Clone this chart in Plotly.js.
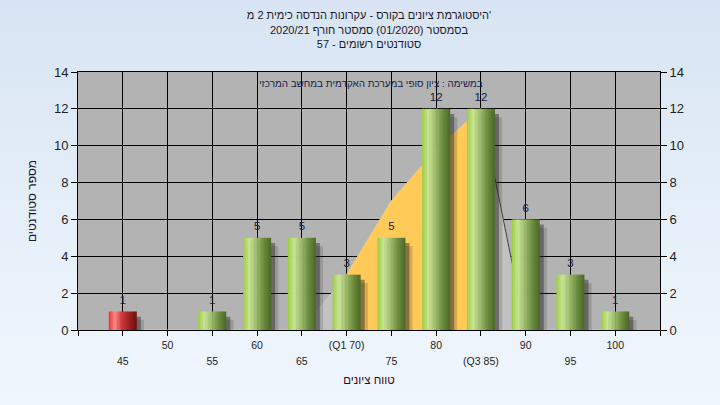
<!DOCTYPE html>
<html>
<head>
<meta charset="utf-8">
<script src="https://cdn.plot.ly/plotly-3.0.1.min.js"></script>
<style>
  html, body { margin: 0; padding: 0; }
  body { width: 720px; height: 405px; background: linear-gradient(to bottom, #d8e4f3 0%, #e6eff9 55%, #f0f6fd 100%); overflow: hidden; }
  #chart { width: 720px; height: 405px; }
</style>
</head>
<body>
<div id="chart"></div>
<script>
// ---------- data ----------
const categories = [45, 50, 55, 60, 65, 70, 75, 80, 85, 90, 95, 100];
const tickLabels = ['45', '50', '55', '60', '65', '(Q1 70)', '75', '80', '(Q3 85)', '90', '95', '100'];
const counts = [1, 0, 1, 5, 5, 3, 5, 12, 12, 6, 3, 1];
const curveValues = [0, 0, 0, 0, 0, 3, 7, 9.8, 12, 0, 0, 0];
const q1 = 70;
const q3 = 85;
const passMark = 55;

const titleLines = [
  "היסטוגרמת ציונים בקורס - עקרונות הנדסה כימית 2 מ'",
  "בסמסטר (01/2020) סמסטר חורף 2020/21",
  "סטודנטים רשומים - 57"
];
const noteText = "במשימה : ציון סופי במערכת האקדמית במחשב המרכזי";
const xTitle = "טווח ציונים";
const yTitle = "מספר סטודנטים";

// ---------- helpers ----------
function hexToRgb(h) { h = h.replace('#', ''); return [0, 2, 4].map(i => parseInt(h.substr(i, 2), 16)); }
function interp(stops, t) {
  for (let i = 0; i < stops.length - 1; i++) {
    const [t0, c0] = stops[i], [t1, c1] = stops[i + 1];
    if (t >= t0 && t <= t1) {
      const f = (t - t0) / (t1 - t0);
      const a = hexToRgb(c0), b = hexToRgb(c1);
      return 'rgb(' + a.map((v, k) => Math.round(v + (b[k] - v) * f)).join(',') + ')';
    }
  }
  return stops[stops.length - 1][1];
}

const greenStops = [[0, '#9dcc3e'], [0.22, '#c9e596'], [0.45, '#a2c070'], [0.75, '#6a8a3c'], [1, '#4a6726']];
const redStops = [[0, '#f02a2a'], [0.22, '#ff8a8a'], [0.45, '#d03a3a'], [0.75, '#9a1c1c'], [1, '#6a0e0e']];

const step = categories[1] - categories[0];
const xRange = [categories[0] - step, categories[categories.length - 1] + step];
const yRange = [0, 14];
const barW = 3.13;
const nStripes = 20;

const traces = [];

// smoothed distribution area (under the bars)
traces.push({
  type: 'scatter', x: categories, y: curveValues, mode: 'lines', fill: 'tozeroy',
  fillcolor: '#c2c2c2', line: { color: '#cdcdcd', width: 1 }, hoverinfo: 'skip', xaxis: 'x', yaxis: 'y'
});
// inter-quartile part of it
const iqIdx = categories.map((c, i) => i).filter(i => categories[i] >= q1 && categories[i] <= q3);
traces.push({
  type: 'scatter', x: iqIdx.map(i => categories[i]), y: iqIdx.map(i => curveValues[i]), mode: 'lines', fill: 'tozeroy',
  fillcolor: '#ffca58', line: { color: '#ffca58', width: 0.5 }, hoverinfo: 'skip', xaxis: 'x', yaxis: 'y'
});
// dark falling edge after Q3
const iq3 = categories.indexOf(q3);
traces.push({
  type: 'scatter', x: categories.slice(iq3, iq3 + 2), y: curveValues.slice(iq3, iq3 + 2), mode: 'lines',
  line: { color: '#3c3c3c', width: 1 }, hoverinfo: 'skip', xaxis: 'x', yaxis: 'y'
});

// bar shadows
[[0.8, 0.45, 'rgba(50,50,50,0.2)'], [0.45, 0.28, 'rgba(40,40,40,0.45)']].forEach(([dx, dy, col]) => {
  traces.push({
    type: 'bar', x: categories, y: counts.map(v => Math.max(v - dy, 0)),
    offset: -barW / 2 + dx, width: barW, marker: { color: col, line: { width: 0 } },
    hoverinfo: 'skip', xaxis: 'x2', yaxis: 'y2'
  });
});

// bars drawn as vertical stripes for the cylinder shading
for (let i = 0; i < nStripes; i++) {
  const t = (i + 0.5) / nStripes;
  const g = interp(greenStops, t), r = interp(redStops, t);
  traces.push({
    type: 'bar', x: categories, y: counts,
    offset: -barW / 2 + i * barW / nStripes, width: barW / nStripes + (i < nStripes - 1 ? 0.05 : 0),
    marker: { color: categories.map(c => c < passMark ? r : g), line: { width: 0 } },
    hoverinfo: 'skip', xaxis: 'x2', yaxis: 'y2'
  });
}

// value labels
traces.push({
  type: 'scatter', x: categories, y: counts, mode: 'markers+text',
  marker: { size: 6, opacity: 0 },
  text: counts.map(v => v > 0 ? String(v) : ''), textposition: 'top center',
  textfont: { size: 11.5, color: '#1a1a3c' }, cliponaxis: false, hoverinfo: 'skip',
  xaxis: 'x2', yaxis: 'y2'
});

const allTicks = [xRange[0]].concat(categories, [xRange[1]]);
const upperText = [''].concat(tickLabels.map((t, i) => i % 2 === 1 ? t : ''), ['']);
const lowerVals = categories.filter((c, i) => i % 2 === 0);
const lowerText = tickLabels.filter((t, i) => i % 2 === 0);

const font = 'Liberation Sans, Arial, sans-serif';
const layout = {
  width: 720, height: 405,
  margin: { l: 78, r: 60, t: 72, b: 75 },
  paper_bgcolor: 'rgba(0,0,0,0)', plot_bgcolor: '#b3b3b3',
  font: { family: font, color: '#1e1e1e' },
  showlegend: false, barmode: 'overlay',
  title: {
    text: titleLines.join('<br>'),
    font: { size: 11, color: '#1a1a2a', family: font },
    x: 0.5, xanchor: 'center', xref: 'paper', y: 0.952, yanchor: 'top', yref: 'container'
  },
  xaxis: {
    range: xRange, tickmode: 'array', tickvals: allTicks, ticktext: upperText,
    ticks: 'outside', ticklen: 5, tickcolor: '#000', tickwidth: 1,
    showline: true, linecolor: '#000', linewidth: 1, mirror: true,
    showgrid: true, gridcolor: '#000', gridwidth: 1, zeroline: false,
    tickfont: { size: 10.5, color: '#1e1e1e' },
    title: { text: xTitle, font: { size: 11.5, color: '#2a0a2a' }, standoff: 26 }
  },
  xaxis2: {
    overlaying: 'x', side: 'bottom', anchor: 'y2', range: xRange,
    tickmode: 'array', tickvals: lowerVals, ticktext: lowerText,
    ticks: '', showline: false, showgrid: false, zeroline: false,
    tickfont: { size: 10.5, color: '#1e1e1e' }, ticklabelstandoff: 23
  },
  yaxis: {
    range: yRange, tick0: 0, dtick: 2, ticks: 'outside', ticklen: 6, tickcolor: '#000',
    showline: true, linecolor: '#000', linewidth: 1, showgrid: true, gridcolor: '#000', gridwidth: 1,
    zeroline: false, tickfont: { size: 13, color: '#1e1e1e' },
    title: { text: yTitle, font: { size: 12, color: '#1a1a2a' }, standoff: 14 }
  },
  yaxis2: {
    overlaying: 'y', side: 'right', range: yRange, tick0: 0, dtick: 2, ticks: 'outside', ticklen: 6,
    tickcolor: '#000', showline: true, linecolor: '#000', linewidth: 1, showgrid: false, zeroline: false,
    tickfont: { size: 13, color: '#1e1e1e' }
  },
  annotations: [{
    text: noteText, xref: 'paper', yref: 'paper', x: 0.503, y: 0.957,
    xanchor: 'center', yanchor: 'middle', showarrow: false,
    font: { size: 9.9, color: '#1a1a4a', family: font }
  }]
};

Plotly.newPlot('chart', traces, layout, { displayModeBar: false, staticPlot: true });
</script>
</body>
</html>
